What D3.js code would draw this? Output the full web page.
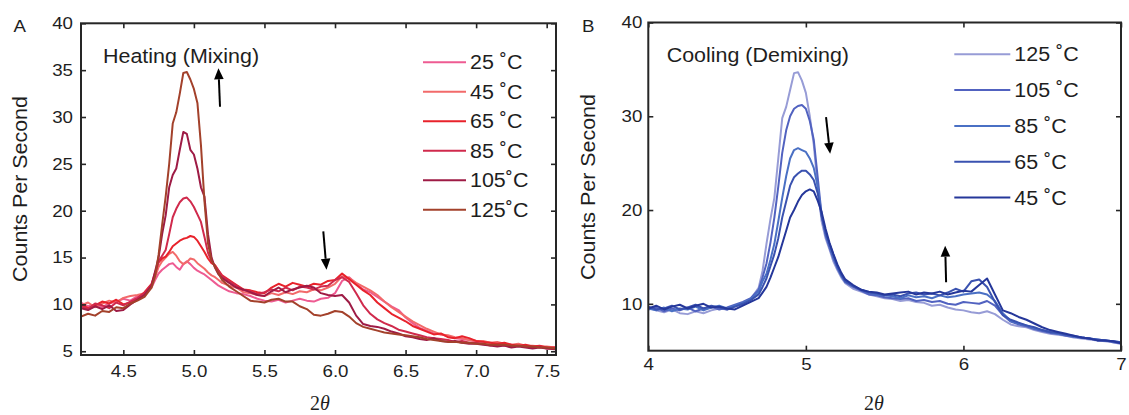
<!DOCTYPE html>
<html><head><meta charset="utf-8">
<script src="https://cdn.jsdelivr.net/npm/d3@7"></script>
<style>
body{margin:0;background:#fff}
text{font-family:"Liberation Sans",Arial,Helvetica,sans-serif;fill:#1e1e1e}
</style>
</head><body>
<svg id="c" width="1129" height="415"></svg>
<script>
// ---------------- DATA ----------------
const thetaHeat = [4.20,4.25,4.30,4.35,4.40,4.45,4.50,4.55,4.60,4.65,
 4.70,4.725,4.75,4.775,4.80,4.825,4.85,4.875,4.90,4.925,4.95,4.975,5.00,5.025,5.05,5.075,5.10,5.125,5.15,5.175,5.20,
 5.25,5.30,5.35,5.40,5.45,5.50,5.55,5.60,5.65,5.70,5.75,5.80,5.85,5.90,5.95,6.00,6.05,6.10,6.15,6.20,6.25,6.30,6.35,6.40,6.45,
 6.50,6.55,6.60,6.65,6.70,6.75,6.80,6.85,6.90,6.95,7.00,7.05,7.10,7.15,7.20,7.25,7.30,7.35,7.40,7.45,7.50,7.56];

const heat25 = [10.2,9.8,10.0,9.7,10.1,10.3,10.6,10.4,10.9,11.1,
 11.8,12.6,13.3,13.7,14.0,14.3,14.4,14.0,13.7,14.3,14.6,14.3,13.9,13.6,13.4,13.2,12.9,12.6,12.3,12.0,11.8,
 11.4,11.2,11.1,10.9,10.6,10.4,10.3,10.5,10.2,10.4,10.6,10.4,10.3,10.6,10.7,11.2,12.5,12.9,12.2,11.6,11.3,10.8,10.3,9.8,9.4,
 8.6,8.0,7.5,7.2,6.9,6.8,6.6,6.4,6.3,6.2,6.1,6.0,5.9,5.8,5.8,5.7,5.6,5.6,5.5,5.5,5.4,5.4];
const heat45 = [9.9,10.2,9.7,10.1,10.4,10.2,10.7,10.9,11.0,11.2,
 12.0,12.9,14.0,14.6,15.0,15.4,15.6,15.2,14.6,14.3,14.5,14.9,14.8,14.4,14.1,13.8,13.4,13.1,12.9,12.6,12.3,
 12.0,11.8,11.3,11.2,11.0,10.9,11.2,11.0,11.3,11.1,11.4,11.3,11.6,11.5,11.8,12.2,13.0,12.8,12.3,11.9,11.5,11.0,10.3,9.7,9.2,
 8.7,8.2,7.8,7.4,7.1,6.8,6.7,6.5,6.4,6.2,6.1,6.1,5.9,6.0,5.8,5.7,5.8,5.6,5.6,5.5,5.5,5.4];
const heat65 = [10.0,9.6,9.9,10.3,10.1,10.5,10.0,10.2,10.6,11.3,
 12.2,13.4,14.5,14.9,15.1,15.6,16.2,16.5,16.8,17.0,17.1,17.3,17.2,16.8,16.2,15.6,14.9,14.4,14.2,13.6,13.1,
 12.6,12.1,11.6,11.5,11.3,11.2,11.8,12.2,11.9,12.3,12.1,11.9,12.2,12.1,12.5,12.6,13.3,12.7,12.1,11.5,11.0,10.2,9.6,9.0,8.6,
 8.2,7.7,7.4,7.1,6.8,6.9,6.5,6.4,6.6,6.4,6.1,6.0,5.9,5.8,5.9,5.7,5.6,5.7,5.5,5.6,5.4,5.4];
const heat85 = [9.8,9.5,10.1,9.9,9.6,10.2,9.9,10.3,10.7,11.2,
 12.1,13.2,14.6,15.2,15.8,17.5,19.3,20.2,20.9,21.3,21.4,21.0,20.4,19.6,18.8,17.2,15.5,14.6,14.1,13.6,13.0,
 12.5,12.0,11.5,11.4,11.1,11.3,11.6,11.4,11.8,11.5,11.9,11.8,11.6,11.9,12.0,12.6,12.9,12.4,11.2,9.9,9.0,8.4,8.0,7.7,7.3,
 7.1,6.9,6.7,6.5,6.4,6.3,6.2,6.0,6.1,5.9,5.9,5.8,5.6,5.7,5.6,5.5,5.6,5.5,5.4,5.5,5.3,5.3];
const heat105 = [9.6,9.4,9.8,9.5,9.9,9.3,9.4,10.0,10.5,11.0,
 12.0,13.5,15.0,17.5,19.5,22.5,23.8,24.5,26.5,28.4,28.2,26.5,26.0,24.5,22.5,21.5,17.5,15.0,13.9,13.2,12.8,
 12.3,11.8,11.6,11.3,11.0,10.9,11.4,11.8,11.3,11.6,11.8,12.0,11.8,11.2,11.0,10.9,11.0,10.2,8.8,7.9,7.7,7.6,7.4,7.1,6.9,
 6.6,6.5,6.3,6.2,6.4,6.1,6.0,6.1,5.9,5.8,5.8,5.7,5.6,5.5,5.6,5.4,5.5,5.4,5.3,5.4,5.3,5.2];
const heat125 = [8.7,9.0,8.8,9.3,9.2,9.7,9.6,10.1,10.4,10.8,
 11.8,13.0,15.3,18.5,21.5,25.0,29.3,30.5,32.5,34.7,34.8,34.0,33.0,31.5,27.0,21.0,16.5,14.7,14.0,13.3,12.6,
 11.9,11.4,10.9,10.4,10.3,10.2,10.5,10.6,10.3,10.3,9.8,9.5,8.9,8.8,9.0,9.3,9.2,8.7,8.0,7.6,7.4,7.2,7.0,6.9,6.8,
 6.7,6.6,6.5,6.3,6.2,6.1,6.0,6.0,5.9,5.9,5.8,5.8,5.7,5.7,5.7,5.6,5.6,5.5,5.5,5.4,5.4,5.3];

const heatLabels = ["25 \u02DAC","45 \u02DAC","65 \u02DAC","85 \u02DAC","105\u02DAC","125\u02DAC"];

const thetaCool = [4.00,4.05,4.10,4.15,4.20,4.25,4.30,4.35,4.40,4.45,4.50,4.55,4.60,4.65,4.70,
 4.725,4.75,4.775,4.80,4.825,4.85,4.875,4.90,4.925,4.95,4.975,5.00,5.025,5.05,5.075,5.10,5.125,5.15,5.175,5.20,5.225,5.25,
 5.30,5.35,5.40,5.45,5.50,5.55,5.60,5.65,5.70,5.75,5.80,5.85,5.90,5.95,6.00,6.05,6.10,6.15,6.20,6.25,
 6.30,6.35,6.40,6.45,6.50,6.55,6.60,6.65,6.70,6.75,6.80,6.85,6.90,6.95,7.00];

const cool125 = [9.6,9.3,9.1,9.4,9.0,8.9,9.2,9.0,9.3,9.5,9.4,9.7,9.9,10.5,11.7,
 13.5,16.4,19.0,21.3,25.5,29.8,31.0,32.8,34.6,34.7,33.8,32.5,30.0,27.0,22.5,18.8,17.0,15.8,14.5,13.6,12.8,12.2,
 11.6,11.3,11.0,10.8,10.6,10.5,10.3,10.4,10.2,10.1,9.8,9.9,9.6,9.4,9.3,9.1,9.0,9.2,8.9,8.3,
 7.8,7.6,7.5,7.2,7.0,6.8,6.7,6.6,6.4,6.3,6.2,6.1,6.0,5.9,5.7];
const cool105 = [9.4,9.6,9.2,9.5,9.3,9.6,9.2,9.5,9.7,9.4,9.6,9.9,10.2,10.6,11.5,
 12.8,14.3,16.5,19.2,22.5,26.1,28.5,30.0,30.8,31.1,31.2,30.8,29.5,27.5,23.5,19.5,17.3,16.0,14.8,13.8,13.0,12.3,
 11.8,11.4,11.0,10.9,10.7,10.6,10.5,10.6,10.3,10.4,10.2,10.3,10.0,9.9,10.2,10.1,10.0,10.3,9.8,8.8,
 8.1,7.8,7.6,7.3,7.1,6.9,6.8,6.6,6.5,6.4,6.3,6.1,6.1,5.9,5.8];
const cool85 = [9.5,9.3,9.6,9.2,9.5,9.4,9.7,9.3,9.6,9.8,9.5,9.8,10.1,10.5,11.3,
 12.4,13.2,14.7,16.4,18.8,21.3,23.6,25.5,26.4,26.6,26.4,26.2,25.5,24.5,22.5,19.5,17.5,16.2,15.0,13.9,13.0,12.4,
 11.9,11.5,11.2,11.0,10.9,10.8,10.6,10.9,10.7,10.8,10.6,10.9,10.7,10.8,11.0,11.1,11.2,11.0,10.3,9.0,
 8.2,7.9,7.7,7.4,7.2,7.0,6.8,6.7,6.5,6.4,6.3,6.2,6.1,6.0,5.9];
const cool65 = [9.7,9.4,9.5,9.8,9.4,9.6,9.9,9.5,9.8,9.6,9.4,9.7,10.0,10.4,11.0,
 11.8,12.7,14.0,15.3,17.0,19.2,20.9,22.6,23.5,23.9,24.2,24.2,23.8,23.2,21.8,19.3,17.6,16.4,15.2,14.0,13.1,12.4,
 11.9,11.5,11.2,11.1,10.9,11.0,10.8,11.1,11.2,11.0,11.1,10.9,11.2,11.6,11.3,12.4,12.6,11.8,10.2,8.8,
 8.3,8.0,7.7,7.5,7.2,7.0,6.9,6.7,6.6,6.4,6.3,6.2,6.1,6.0,5.9];
const cool45 = [9.5,9.8,9.4,9.7,9.9,9.5,9.8,10.0,9.6,9.7,9.5,9.4,9.8,10.2,10.6,
 11.2,11.8,12.8,13.9,15.0,16.4,17.8,19.2,20.0,20.9,21.6,22.0,22.2,22.0,21.0,19.8,18.0,16.5,15.3,14.2,13.3,12.6,
 12.0,11.5,11.3,11.2,11.0,11.1,11.2,11.3,11.0,11.2,11.1,11.3,11.0,11.2,11.4,11.3,12.0,12.7,11.0,9.3,
 9.0,8.6,8.3,7.9,7.5,7.2,7.0,6.8,6.6,6.4,6.3,6.1,6.1,6.0,5.8];

const coolLabels = ["125 \u02DAC","105 \u02DAC","85 \u02DAC","65 \u02DAC","45 \u02DAC"];

const heatXTicks = [4.5,5.0,5.5,6.0,6.5,7.0,7.5];
const heatYTicks = [5,10,15,20,25,30,35,40];
const coolXTicks = [4,5,6,7];
const coolYTicks = [10,20,30,40];

// ---------------- STYLE ----------------
const heatColors = ["#ee5b92","#f26a6a","#e8222b","#d02a4c","#9e1b45","#a3412b"];
const coolColors = ["#979cd6","#5162c0","#4a70c4","#3a52b0","#25379a"];
const SX = 1.1;       // horizontal glyph stretch
const INK = "#262626";

const svg = d3.select("#c");

function txt(x, y, str, size, anchor, rot) {
  return svg.append("text")
    .attr("transform", `translate(${x},${y}) rotate(${rot||0}) scale(${SX},1)`)
    .attr("text-anchor", anchor || "start")
    .style("font-size", size + "px")
    .text(str);
}

function arrow(x1, y1, x2, y2) {
  const dx = x2 - x1, dy = y2 - y1, L = Math.hypot(dx, dy);
  const ux = dx / L, uy = dy / L, hl = 11, hw = 4.8;
  const bx = x2 - ux * hl, by = y2 - uy * hl;
  svg.append("line").attr("x1", x1).attr("y1", y1).attr("x2", bx).attr("y2", by)
    .attr("stroke", "#000").attr("stroke-width", 2);
  svg.append("path")
    .attr("d", `M${x2},${y2}L${bx - uy * hw},${by + ux * hw}L${bx + uy * hw},${by - ux * hw}Z`)
    .attr("fill", "#000");
}

function panel(cfg) {
  const x = d3.scaleLinear().domain(cfg.xDomain).range([cfg.left, cfg.right]);
  const y = d3.scaleLinear().domain(cfg.yDomain).range([cfg.bottom, cfg.top]);
  const clipId = "clip" + cfg.id;
  svg.append("clipPath").attr("id", clipId).append("rect")
    .attr("x", cfg.left).attr("y", cfg.top)
    .attr("width", cfg.right - cfg.left).attr("height", cfg.bottom - cfg.top);

  const line = d3.line().x(d => x(d[0])).y(d => y(d[1]));
  const gl = svg.append("g").attr("clip-path", `url(#${clipId})`);
  cfg.series.forEach((s, i) => {
    if (s.length !== cfg.theta.length) console.error("length mismatch", cfg.id, i, s.length, cfg.theta.length);
  });
  cfg.drawOrder.forEach(i => {
    gl.append("path")
      .datum(cfg.theta.map((t, k) => [t, cfg.series[i][k]]))
      .attr("d", line)
      .attr("fill", "none")
      .attr("stroke", cfg.colors[i])
      .attr("stroke-width", 2)
      .attr("stroke-linejoin", "round");
  });

  const T = 5;
  const gb = svg.append("g").attr("transform", `translate(0,${cfg.bottom})`)
    .call(d3.axisBottom(x).tickValues(cfg.xTicks).tickFormat(cfg.xFmt)
      .tickSizeInner(-T).tickSizeOuter(0).tickPadding(cfg.xPad));
  const gt = svg.append("g").attr("transform", `translate(0,${cfg.top})`)
    .call(d3.axisTop(x).tickValues(cfg.xTicks).tickFormat("")
      .tickSizeInner(-T).tickSizeOuter(0));
  const gle = svg.append("g").attr("transform", `translate(${cfg.left},0)`)
    .call(d3.axisLeft(y).tickValues(cfg.yTicks).tickFormat(d3.format("d"))
      .tickSizeInner(-T).tickSizeOuter(0).tickPadding(cfg.yPad));
  const gr = svg.append("g").attr("transform", `translate(${cfg.right},0)`)
    .call(d3.axisRight(y).tickValues(cfg.yTicks).tickFormat("")
      .tickSizeInner(-T).tickSizeOuter(0));
  [gb, gt, gle, gr].forEach(g => {
    g.select(".domain").remove();
    g.selectAll(".tick line").attr("stroke", INK).attr("stroke-width", 1.6);
    g.selectAll(".tick text").style("font-size", "17px").attr("fill", "#1e1e1e")
      .style("font-family", '"Liberation Sans",Arial,sans-serif');
  });
  gb.selectAll(".tick text").attr("transform", `scale(${SX},1)`);
  gle.selectAll(".tick text").attr("x", -cfg.yPad / SX).attr("transform", `scale(${SX},1)`);

  svg.append("rect").attr("x", cfg.left).attr("y", cfg.top)
    .attr("width", cfg.right - cfg.left).attr("height", cfg.bottom - cfg.top)
    .attr("fill", "none").attr("stroke", INK).attr("stroke-width", 2);

  cfg.labels.forEach((lab, i) => {
    const yy = cfg.legY + i * cfg.legStep;
    svg.append("line").attr("x1", cfg.legX).attr("x2", cfg.legX + cfg.legLen)
      .attr("y1", yy).attr("y2", yy).attr("stroke", cfg.colors[i]).attr("stroke-width", 2);
    txt(cfg.legX + cfg.legLen + 4, yy + 7, lab, 19.5, "start");
  });
  return {x, y};
}

const A = panel({
  id: "A", left: 81, right: 556, top: 23.3, bottom: 355,
  xDomain: [4.2, 7.566], yDomain: [4.6, 40],
  theta: thetaHeat, series: [heat25, heat45, heat65, heat85, heat105, heat125],
  colors: heatColors, drawOrder: [0, 1, 2, 3, 4, 5],
  xTicks: heatXTicks, yTicks: heatYTicks, xFmt: d3.format(".1f"), xPad: 10, yPad: 8,
  labels: heatLabels, legX: 423, legLen: 43, legY: 62.3, legStep: 29.5
});
const B = panel({
  id: "B", left: 648.3, right: 1121, top: 22.5, bottom: 350.7,
  xDomain: [4, 7], yDomain: [5, 40],
  theta: thetaCool, series: [cool125, cool105, cool85, cool65, cool45],
  colors: coolColors, drawOrder: [0, 1, 2, 3, 4],
  xTicks: coolXTicks, yTicks: coolYTicks, xFmt: d3.format("d"), xPad: 7, yPad: 6,
  labels: coolLabels, legX: 954.3, legLen: 56, legY: 54.3, legStep: 35.8
});

// panel letters
txt(13.5, 32, "A", 17, "start");
txt(582, 32, "B", 17, "start");

// axis titles
txt(27, 189, "Counts Per Second", 19.5, "middle", -90);
txt(595, 187, "Counts Per Second", 19.5, "middle", -90);
function twoTheta(xc, yb) {
  const t = svg.append("text").attr("x", xc).attr("y", yb).attr("text-anchor", "middle")
    .style("font-family", '"Liberation Serif","Times New Roman",serif').style("font-size", "20px");
  t.append("tspan").text("2");
  t.append("tspan").style("font-style", "italic").text("\u03B8");
}
twoTheta(320, 410);
twoTheta(874, 410);

// annotations
txt(103, 62.5, "Heating (Mixing)", 19.5, "start");
txt(666.7, 61.7, "Cooling (Demixing)", 19.5, "start");
arrow(A.x(5.185), A.y(31.1), A.x(5.174), A.y(35.2));
arrow(A.x(5.917), A.y(17.8), A.x(5.940), A.y(13.7));
arrow(B.x(5.128), B.y(29.9), B.x(5.154), B.y(26.0));
arrow(B.x(5.890), B.y(12.3), B.x(5.884), B.y(16.2));
</script>
</body></html>
